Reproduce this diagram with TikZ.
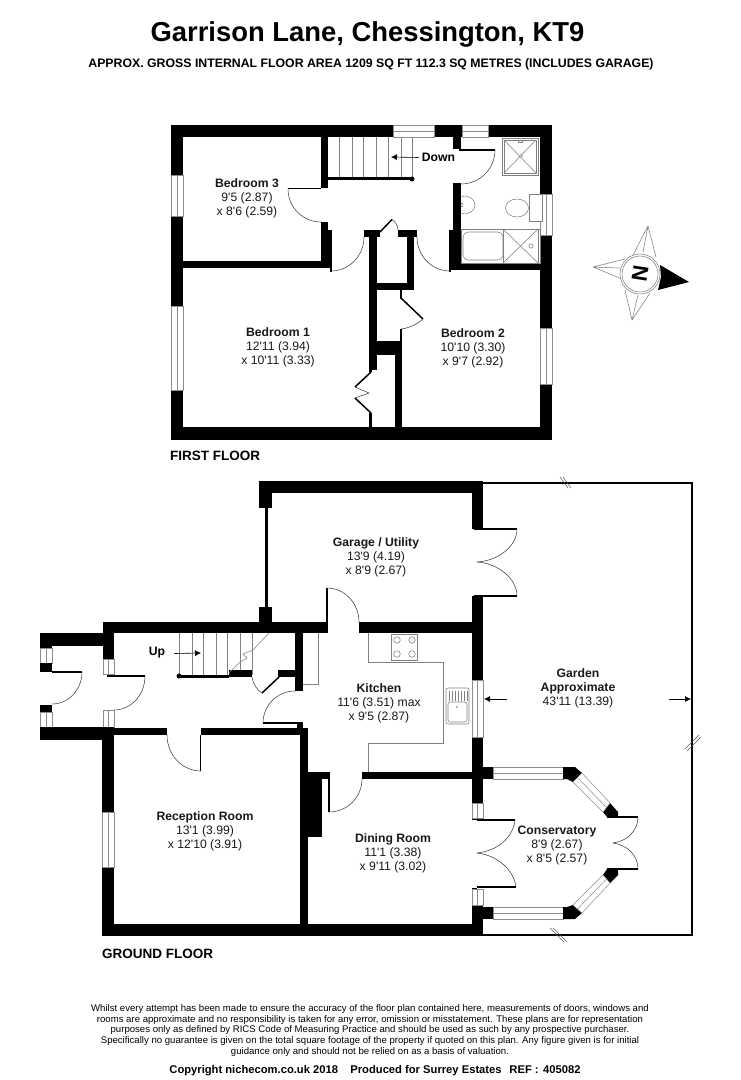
\documentclass[tikz,border=0pt]{standalone}
\usepackage{fontspec}
\usetikzlibrary{calc,arrows.meta}
\newfontfamily\lsans{Liberation Sans}
\newcommand\W[4]{\fill[black] (#1,#2) rectangle (#3,#4);}
% windows: horizontal and vertical
\newcommand\WH[4]{\fill[white] (#1,#2) rectangle (#3,#4);\draw[winline] (#1,#2) rectangle (#3,#4);\draw[winline] (#1,{(#2+#4)/2}) -- (#3,{(#2+#4)/2});}
\newcommand\WV[4]{\fill[white] (#1,#2) rectangle (#3,#4);\draw[winline] (#1,#2) rectangle (#3,#4);\draw[winline] ({(#1+#3)/2},#2) -- ({(#1+#3)/2},#4);}
% quarter arc P Q centre C
\newcommand\QA[6]{\draw[swing] (#1,#2) .. controls ($(#1,#2)+.5523*(#3,#4)-.5523*(#5,#6)$) and ($(#3,#4)+.5523*(#1,#2)-.5523*(#5,#6)$) .. (#3,#4);}
\tikzset{
 winline/.style={draw=black!45,line width=.5pt},
 swing/.style={draw=black!75,line width=.55pt},
 fixture/.style={draw=black!50,line width=.55pt},
 leaf/.style={draw=black,line width=1.5pt},
 thinwall/.style={draw=black,line width=1.2pt},
 roomlabel/.style={font=\lsans\fontsize{12.2}{14}\selectfont,align=center,inner sep=0pt,text=black!90,yshift=-1pt},
 floorlabel/.style={font=\lsans\bfseries\fontsize{13.5}{15}\selectfont,anchor=west,inner sep=0pt,yshift=-1pt},
 footer/.style={font=\lsans\fontsize{9.6}{10.9}\selectfont,align=center,inner sep=0pt,anchor=north},
 garden/.style={draw=black,line width=1.4pt},
 breakmark/.style={draw=black!65,line width=.5pt},
 arrowline/.style={draw=black,line width=.6pt,-{Latex[length=6pt,width=6pt]}},
}
\begin{document}
\begin{tikzpicture}[x=1pt,y=-1pt]
\useasboundingbox (0,0) rectangle (740,1080);
\fill[white] (0,0) rectangle (740,1080);
% titles
\node[font=\lsans\bfseries\fontsize{27.4}{30}\selectfont,inner sep=0pt] (title) at (367.5,34) {Garrison Lane, Chessington, KT9};
\node[font=\lsans\bfseries\fontsize{12.3}{14}\selectfont,inner sep=0pt] (sub) at (371,64) {APPROX. GROSS INTERNAL FLOOR AREA 1209 SQ FT 112.3 SQ METRES (INCLUDES GARAGE)};
%%%%% FIRST FLOOR
\W{171}{125}{552}{137}\W{171}{427}{552}{440}\W{171}{125}{183}{440}\W{540}{125}{552}{440}
\WH{393}{125}{434}{137}\WH{462}{125}{488}{137}
\WV{171}{175}{183}{216}\WV{171}{306}{183}{390}\WV{540}{328}{552}{384}\WV{540}{194}{552}{235}
% bedroom 3 walls
\W{183}{261}{328}{268}\W{321}{137}{328}{188}\W{321}{222}{328}{268}
\draw[thinwall] (288,188.5) -- (321,188.5);
\QA{288}{189}{321}{222}{321}{189}
\W{328}{230}{331}{268}
\draw[thinwall] (331,230) -- (331,272);
\QA{331}{271}{364}{237}{331}{237}
% stairs
\foreach \sx in {339,352,363,376,388,401,412}{\draw[fixture] (\sx,137) -- (\sx,178);}
\W{328}{177}{412}{180}
\fill[black] (412,179) circle (2.5);
\node[font=\lsans\bfseries\fontsize{12.2}{14}\selectfont,inner sep=0pt] (down) at (438.5,157.5) {Down};
\coordinate (downEnd) at (391,157);
\draw[arrowline] (down.west)++(-3,0) -- (downEnd);
% bathroom walls
\W{453}{137}{461}{149}\W{453}{183}{461}{270}\W{453}{263}{540}{270}
\draw[thinwall] (459,150) -- (495,150);
\QA{495}{150}{461}{184}{461}{150}
\W{450}{230}{453}{270}
\draw[thinwall] (450,230) -- (450,272);
\QA{450}{271}{417}{237}{450}{237}
% cupboards
\W{364}{230}{380}{237}\W{398}{230}{417}{237}
\W{369}{230}{377}{370}\W{407}{230}{414}{290}\W{369}{283}{414}{290}
\draw[leaf] (380,232) -- (392,219.5);
\draw[swing] (392,219.5) .. controls (395,221) and (398,226) .. (398,230);
% lower cupboard
\draw[thinwall] (401,290) -- (401,299);
\draw[leaf] (401,298) -- (423,319);
\draw[swing] (423,319) .. controls (416,325) and (409,328) .. (401,329);
\W{400}{329}{402}{355}
\W{369}{341}{402}{355}
\W{395}{355}{402}{427}
\W{369}{355}{372}{372}\W{369}{413}{372}{427}
\draw[leaf] (371,372) -- (355,387);
\draw[swing] (355,387) -- (369,393) -- (355,398);
\draw[leaf] (355,398) -- (371,413);
% bathroom fixtures
\draw[fixture] (502,138) rectangle (538,175);
\draw[fixture] (504,140) rectangle (536,173);
\draw[fixture] (504,140) -- (536,173) (536,140) -- (504,173);
\draw[fixture,fill=white] (521,156) circle (1.5);
\draw[fixture] (518,140) rectangle (522,142);
\draw[fixture] (461,197) .. controls (468,194) and (475,199) .. (475,205) .. controls (475,211) and (468,216) .. (461,213);
\draw[fixture] (462,205) ellipse (1 and 2);
\draw[fixture] (517,208) ellipse (11.5 and 9);
\draw[fixture,fill=white] (529,194) rectangle (542,221);
\draw[fixture] (461,229) rectangle (540,263);
\draw[fixture,rounded corners=5pt] (463,232) rectangle (503,260);
\draw[fixture] (503,229) rectangle (538,263);
\draw[fixture] (503,263) -- (538,229) (503,229) -- (538,263);
\draw[fixture,fill=white] (531,246) circle (2.2);
% labels first floor
\node[roomlabel] (bed3) at (247,197.5) {\textbf{Bedroom 3}\\9'5 (2.87)\\x 8'6 (2.59)};
\node[roomlabel] (bed1) at (278,346.5) {\textbf{Bedroom 1}\\12'11 (3.94)\\x 10'11 (3.33)};
\node[roomlabel] (bed2) at (473,347.5) {\textbf{Bedroom 2}\\10'10 (3.30)\\x 9'7 (2.92)};
\node[floorlabel] (ff) at (170,455) {FIRST FLOOR};
%%%%% COMPASS
\draw[fixture] (648,226) -- (633,255) (648,226) -- (656,257) (648,226) -- (643,252);
\draw[fixture] (593,267) -- (625,259) (593,267) -- (622,279) (593,267) -- (620,268);
\draw[fixture] (632,320) -- (625,290) (632,320) -- (650,293) (632,320) -- (638,295);
\fill[black] (660,265) -- (689,282) -- (658,290) -- (661,277) -- cycle;
\draw[fixture,fill=white] (640,274) circle (20);
\draw[fixture] (640,274) circle (18);
\node[font=\lsans\bfseries\fontsize{22}{24}\selectfont,inner sep=0pt,rotate=-99] (north) at (640,274) {N};
%%%%% GROUND FLOOR
% garden
\draw[garden] (483,483) -- (692,483) -- (692,935) -- (483,935);
\draw[breakmark] (560,477) -- (568,488) (563,477) -- (571,488);
\draw[breakmark] (685,749) -- (699,735) (687,751) -- (701,737);
\draw[breakmark] (550,928) -- (564,942) (553,928) -- (567,942);
% garage
\W{259}{481}{483}{493}\W{259}{493}{272}{508}\W{265}{508}{268}{607}\W{259}{607}{272}{622}
\W{472}{493}{483}{529}
\draw[thinwall] (474,529) -- (517,529);
\draw[swing] (517,529) .. controls (517,547) and (497,561) .. (477,562);
\draw[swing] (477,562) .. controls (497,563) and (517,578) .. (517,596);
\draw[thinwall] (474,596) -- (517,596);
% main walls
\W{472}{596}{483}{680}\W{472}{737}{483}{803}\W{472}{818}{477}{820}\W{472}{888}{477}{890}\W{472}{905}{483}{936}
\WV{472}{680}{483}{737}\WV{472}{803}{483}{818}\WV{472}{889}{483}{905}
\W{103}{622}{327}{633}\W{359}{622}{483}{633}
\draw[thinwall] (327,588) -- (327,633);
\QA{327}{588}{359}{622}{327}{622}
\W{362}{772}{472}{779}
\draw[thinwall] (329,772) -- (329,812);
\QA{329}{812}{362}{779}{329}{779}
\W{301}{772}{329}{779}\W{307}{772}{322}{837}
\W{300}{728}{308}{936}\W{103}{728}{167}{735}\W{201}{728}{308}{735}
\W{102}{735}{114}{812}\W{102}{867}{114}{936}\W{102}{924}{483}{936}
\WV{102}{812}{114}{867}
% reception door
\draw[thinwall] (200.5,735) -- (200.5,771);
\QA{167}{735}{201}{771}{201}{735}
% kitchen left wall and door
\W{295}{633}{303}{691}
\draw[thinwall] (263,723) -- (301,723);
\QA{263}{723}{295}{691}{295}{723}
\W{297}{722}{303}{728}
% hall
\W{103}{633}{114}{659}\WV{103}{659}{114}{674}
\draw[thinwall] (107,676) -- (145,676);
\QA{145}{676}{114}{710}{114}{676}
\WV{103}{710}{114}{727}
\W{40}{633}{103}{646}\W{40}{646}{52}{648}\WV{40}{648}{52}{663}\W{40}{663}{52}{672}
\draw[thinwall] (52,672) -- (82,672);
\QA{82}{672}{52}{704}{52}{672}
\W{40}{705}{52}{712}\WV{40}{712}{52}{727}\W{40}{727}{114}{740}
% stairs ground
\foreach \sx in {179,192,203,216,227,240,252}{\draw[fixture] (\sx,633) -- (\sx,675);}
\W{179}{675}{229}{677.5}\W{229}{670}{252}{677}
\fill[black] (179,676) circle (2.5);
\draw[fixture] (229,673) -- (240,662) -- (247,658) -- (243,654) -- (253,650) -- (269,633);
\W{278}{670}{297}{677}
\draw[leaf] (262,693) -- (279,677);
\draw[swing] (252,677) .. controls (253,684) and (257,690) .. (262,693);
\node[font=\lsans\bfseries\fontsize{12.2}{14}\selectfont,inner sep=0pt] (up) at (157,652.5) {Up};
\coordinate (upEnd) at (201,653);
\draw[arrowline] (up.east)++(9,1) -- (upEnd);
% kitchen fixtures
\draw[fixture] (318,633) -- (318,684) -- (303,684);
\draw[fixture] (368,633) -- (368,662) -- (443,662) -- (443,743) -- (368,743) -- (368,772);
\draw[fixture,fill=white] (391,634) rectangle (417,660);
\foreach \hx/\hy in {397/640,412/640,397/654,412/654}{\draw[fixture] (\hx,\hy) circle (3.3);}
\draw[fixture,rounded corners=2pt] (446,688) rectangle (469,724);
\draw[fixture,rounded corners=2pt] (448,702) rectangle (467,722);
\foreach \dx in {449,452,455,458,461,464,467}{\draw[fixture,line width=.9pt] (\dx,691) -- (\dx,701);}
\fill[black!55] (457,707) circle (.9);
% garden arrows
\node[roomlabel] (gardenlabel) at (578,687) {\textbf{Garden}\\\textbf{Approximate}\\43'11 (13.39)};
\coordinate (gleft) at (484,699);\coordinate (gleftS) at (507,699);
\coordinate (gright) at (691,699);\coordinate (grightS) at (669,699);
\draw[arrowline] (gleftS) -- (gleft);
\draw[arrowline] (grightS) -- (gright);
% conservatory
\W{483}{767}{493}{779}\W{483}{907}{493}{919}
\WH{493}{767}{563}{779}\WH{493}{907}{563}{919}
\fill[black] (563,767) -- (575,767) -- (582,773) -- (573,782) -- (567,779) -- (563,779) -- cycle;
\fill[black] (610,803) -- (618,812) -- (618,817) -- (607,817) -- (603,812) -- cycle;
\fill[black] (618,869) -- (618,875) -- (610,883) -- (603,875) -- (607,869) -- cycle;
\fill[black] (573,905) -- (582,913) -- (575,919) -- (563,919) -- (563,907) -- (567,907) -- cycle;
\draw[winline,fill=white] (582,773) -- (610,803) -- (603,812) -- (573,782) -- cycle;
\draw[winline] (577.5,777.5) -- (606.5,807.5);
\draw[winline,fill=white] (610,883) -- (582,913) -- (573,905) -- (603,875) -- cycle;
\draw[winline] (606.5,879) -- (577.5,909);
\draw[thinwall] (607,817) -- (638,817);
\draw[swing] (638,817) .. controls (638,830) and (628,841) .. (613,843);
\draw[swing] (613,843) .. controls (628,845) and (638,856) .. (638,869);
\draw[thinwall] (607,869) -- (638,869);
\draw[thinwall] (477,820) -- (515,820);
\draw[swing] (515,820) .. controls (513,838) and (497,851) .. (477,853);
\draw[swing] (477,853) .. controls (497,855) and (514,870) .. (516,887);
\draw[thinwall] (477,887) -- (516,887);
% labels ground floor
\node[roomlabel] (garage) at (376,556.5) {\textbf{Garage / Utility}\\13'9 (4.19)\\x 8'9 (2.67)};
\node[roomlabel] (kitchen) at (379,702) {\textbf{Kitchen}\\11'6 (3.51) max\\x 9'5 (2.87)};
\node[roomlabel] (reception) at (205,830.5) {\textbf{Reception Room}\\13'1 (3.99)\\x 12'10 (3.91)};
\node[roomlabel] (dining) at (393,852.5) {\textbf{Dining Room}\\11'1 (3.38)\\x 9'11 (3.02)};
\node[roomlabel] (cons) at (557,844.5) {\textbf{Conservatory}\\8'9 (2.67)\\x 8'5 (2.57)};
\node[floorlabel] (gf) at (102,953) {GROUND FLOOR};
% footer
\node[footer] (disc) at (370,1004) {Whilst every attempt has been made to ensure the accuracy of the floor plan contained here, measurements of doors, windows and\\rooms are approximate and no responsibility is taken for any error, omission or misstatement. These plans are for representation\\purposes only as defined by RICS Code of Measuring Practice and should be used as such by any prospective purchaser.\\Specifically no guarantee is given on the total square footage of the property if quoted on this plan. Any figure given is for initial\\guidance only and should not be relied on as a basis of valuation.};
\node[font=\lsans\bfseries\fontsize{11.2}{12}\selectfont,inner sep=0pt] (copy) at (375,1070.5) {Copyright nichecom.co.uk 2018\hspace{1.1em}Produced for Surrey Estates\hspace{.7em}REF :\hspace{.4em}405082};
\end{tikzpicture}
\end{document}
